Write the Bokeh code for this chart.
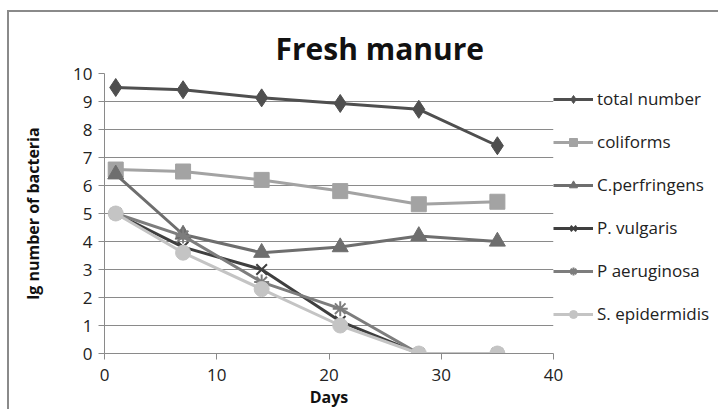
from bokeh.plotting import figure
from bokeh.models import Legend, LegendItem, Range1d, FixedTicker
from bokeh.embed import file_html
from bokeh.resources import INLINE

days = [1, 7, 14, 21, 28, 35]
total_number = [9.5, 9.42, 9.13, 8.93, 8.72, 7.42]
coliforms = [6.57, 6.5, 6.2, 5.8, 5.33, 5.42]
c_perfringens = [6.4, 4.25, 3.6, 3.8, 4.2, 4.0]
p_vulgaris = [5.0, 3.8, 3.0, 1.15, 0.0, 0.0]
p_aeruginosa = [5.0, 4.2, 2.55, 1.6, 0.0, 0.0]
s_epidermidis = [5.0, 3.6, 2.3, 1.0, 0.0, 0.0]

series = [
    ("total number", total_number, "#4f4f4f", "diamond", 18),
    ("coliforms", coliforms, "#a3a3a3", "square", 15),
    ("C.perfringens", c_perfringens, "#6e6e6e", "triangle", 16),
    ("P. vulgaris", p_vulgaris, "#3f3f3f", "x", 15),
    ("P aeruginosa", p_aeruginosa, "#7d7d7d", "asterisk", 15),
    ("S. epidermidis", s_epidermidis, "#c4c4c4", "circle", 15),
]

FONT = "Open Sans"
OX, OY = 9, 12            # canvas origin inside the bordered box
FL, FR, FT, FB = 104, 553, 73, 353

p = figure(output_backend="svg", toolbar_location=None,
           x_range=Range1d(0, 40), y_range=Range1d(0, 10),
           frame_width=FR - FL, frame_height=FB - FT,
           min_border_left=FL - OX, min_border_right=718 - FR,
           min_border_top=FT - OY, min_border_bottom=414 - FB - 3)
p.styles = {"position": "absolute", "left": "9px", "top": "12px",
            "box-shadow": "-2px -2px 0px 0px #8a8a8a"}
p.outline_line_color = None
p.background_fill_color = "white"
p.border_fill_color = "white"

p.title.text = "Fresh manure"
p.title.text_font = FONT
p.title.text_font_style = "bold"
p.title.text_font_size = "30px"
p.title.text_color = "#111111"
p.title.align = "left"
p.title.offset = 275 - FL
p.title.standoff = 10

p.xgrid.grid_line_color = None
p.ygrid.grid_line_color = "#8a8a8a"
p.ygrid.grid_line_width = 1

p.xaxis.ticker = FixedTicker(ticks=[0, 10, 20, 30, 40])
p.yaxis.ticker = FixedTicker(ticks=list(range(0, 11)))
for ax in (p.xaxis, p.yaxis):
    ax.axis_line_color = "#8a8a8a"
    ax.major_tick_line_color = "#8a8a8a"
    ax.minor_tick_line_color = None
    ax.major_tick_in = 0
    ax.major_tick_out = 6
    ax.major_label_text_font = FONT
    ax.major_label_text_font_size = "17px"
    ax.major_label_text_color = "#222222"
    ax.axis_label_text_font = FONT
    ax.axis_label_text_font_style = "bold"
    ax.axis_label_text_font_size = "16px"
    ax.axis_label_text_color = "#111111"
p.xaxis.axis_label = "Days"
p.yaxis.axis_label = "lg number of bacteria"
p.xaxis.major_label_standoff = 9
p.xaxis.axis_label_standoff = 2
p.yaxis.major_label_standoff = 6
p.yaxis.axis_label_standoff = 26

items = []
for name, vals, color, marker, size in series:
    r1 = p.line(days, vals, line_color=color, line_width=3)
    if marker in ("x", "asterisk"):
        r2 = p.scatter(days, vals, marker=marker, size=size, line_color=color,
                       line_width=2)
    else:
        r2 = p.scatter(days, vals, marker=marker, size=size, fill_color=color,
                       line_color=color)
    items.append(LegendItem(label=name, renderers=[r1, r2]))

legend = Legend(items=items, location=(0, 28), orientation="vertical",
                margin=0, padding=0, border_line_alpha=0, background_fill_alpha=0,
                glyph_width=40, glyph_height=20, label_height=20, spacing=20,
                label_standoff=4, label_text_font=FONT, label_text_font_size="17px",
                label_text_color="#222222")
p.add_layout(legend, "right")

open("out.html", "w").write(file_html(p, INLINE))
